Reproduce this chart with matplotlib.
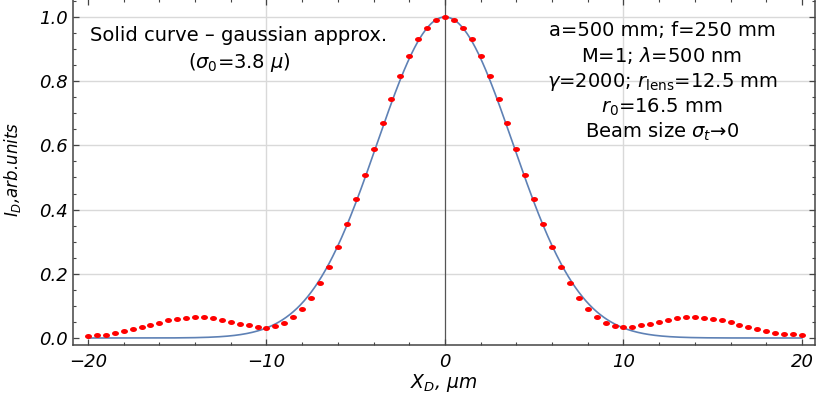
import numpy as np
import matplotlib
matplotlib.use("Agg")
import matplotlib.pyplot as plt
from matplotlib.path import Path
from matplotlib.ticker import MultipleLocator, FormatStrFormatter

plt.rcParams["font.family"] = ["DejaVu Sans"]
plt.rcParams["mathtext.fontset"] = "dejavusans"

# Sampled detector intensity (red dots), step 0.5 um
x_um = np.linspace(-20, 20, 81)
intensity = [
    0.007, 0.010, 0.010, 0.016, 0.021, 0.027, 0.035, 0.041, 0.048, 0.055,
    0.060, 0.062, 0.066, 0.066, 0.062, 0.057, 0.051, 0.044, 0.039, 0.035,
    0.032, 0.038, 0.047, 0.066, 0.091, 0.125, 0.170, 0.222, 0.285, 0.354,
    0.432, 0.508, 0.590, 0.669, 0.745, 0.817, 0.880, 0.932, 0.967, 0.992,
    1.000,
    0.992, 0.967, 0.932, 0.880, 0.817, 0.745, 0.669, 0.590, 0.508, 0.432,
    0.354, 0.285, 0.222, 0.170, 0.125, 0.091, 0.066, 0.047, 0.038, 0.033,
    0.035, 0.039, 0.044, 0.051, 0.057, 0.062, 0.066, 0.066, 0.062, 0.060,
    0.055, 0.049, 0.041, 0.035, 0.027, 0.023, 0.017, 0.011, 0.011, 0.008,
]

# Gaussian approximation width (um)
sigma0 = 3.8

x_ticks = [-20, -10, 0, 10, 20]
y_ticks = [0.0, 0.2, 0.4, 0.6, 0.8, 1.0]
grid_x = [-10, 10]
grid_y = [0.2, 0.4, 0.6, 0.8, 1.0]

left_note = ["Solid curve \u2013 gaussian approx.", r"($\sigma_0$=3.8 $\mu$)"]
right_note = [
    "a=500 mm; f=250 mm",
    r"M=1; $\lambda$=500 nm",
    r"$\gamma$=2000; $r_{\mathrm{lens}}$=12.5 mm",
    r"$r_0$=16.5 mm",
    "Beam size $\\sigma_t$\u21920",
]

W, H = 817, 399
fig = plt.figure(figsize=(W / 100, H / 100), dpi=100)
ax = fig.add_axes([73 / W, 54 / H, 742 / W, 346 / H])
ax.set_xlim(-20.84, 20.73)
ax.set_ylim(-0.0218, 1.056)

for gx in grid_x:
    ax.axvline(gx, color="#d9d9d9", lw=1.0, zorder=0)
for gy in grid_y:
    ax.axhline(gy, color="#d9d9d9", lw=1.0, zorder=0)
ax.axvline(0, color="#555555", lw=0.9, zorder=1)

# Gaussian curve
xs = np.linspace(-20, 20, 801)
ax.plot(xs, np.exp(-xs ** 2 / (2 * sigma0 ** 2)), color="#5E81B5", lw=1.2, zorder=2)

# Slightly wide elliptical dot marker
t = np.linspace(0, 2 * np.pi, 41)
ellipse = Path(np.column_stack([1.4 * np.cos(t), np.sin(t)]), closed=True)
ax.plot(x_um, intensity, linestyle="none", marker=ellipse, markersize=5.0,
        color="#ff0000", markeredgewidth=0, zorder=3)

ax.set_xticks(x_ticks)
ax.set_yticks(y_ticks)
ax.xaxis.set_minor_locator(MultipleLocator(2))
ax.yaxis.set_minor_locator(MultipleLocator(0.05))
ax.yaxis.set_major_formatter(FormatStrFormatter("%.1f"))
ax.tick_params(which="both", direction="in", top=True, right=True, color="#444444")
ax.tick_params(which="major", length=4.5, width=0.9)
ax.tick_params(which="minor", length=2.5, width=0.8)
ax.tick_params(axis="y", pad=3.5, labelsize=13)
ax.tick_params(axis="x", pad=5.5, labelsize=13)
for lab in ax.get_xticklabels() + ax.get_yticklabels():
    lab.set_fontstyle("italic")
for sp in ax.spines.values():
    sp.set_color("#444444")
    sp.set_linewidth(1.1)

ax.set_xlabel("$X_D$, $\\mu$m", fontsize=13.5, fontstyle="italic", va="center")
ax.xaxis.set_label_coords(0.5, -0.11)
ax.set_ylabel("$I_D$,arb.units", fontsize=12, fontstyle="italic", va="center")
ax.yaxis.set_label_coords(-0.082, 0.506)

for txt, base in zip(left_note, [41, 68]):
    fig.text(239 / W, (H - base) / H, txt, ha="center", va="baseline", fontsize=14)
for txt, base in zip(right_note, [36, 62, 87, 113, 138]):
    fig.text(662 / W, (H - base) / H, txt, ha="center", va="baseline", fontsize=14)

fig.savefig("out.png", dpi=100)
